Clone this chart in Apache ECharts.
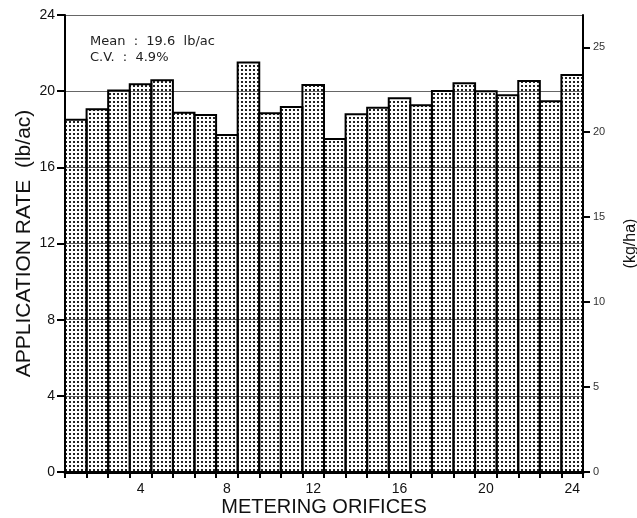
<!DOCTYPE html>
<html>
<head>
<meta charset="utf-8">
<script src="https://cdn.jsdelivr.net/npm/echarts@6/dist/echarts.min.js"></script>
<style>html,body{margin:0;padding:0;background:#fff;}#c{width:637px;height:518px;}</style>
</head>
<body>
<div id="c"></div>
<script>
const orifices = ['1','2','3','4','5','6','7','8','9','10','11','12','13','14','15','16','17','18','19','20','21','22','23','24'];
const rates = [18.5, 19.05, 20.03, 20.36, 20.57, 18.87, 18.75, 17.7, 21.5, 18.84, 19.17, 20.33,
               17.49, 18.79, 19.13, 19.63, 19.26, 20.01, 20.41, 19.99, 19.78, 20.54, 19.47, 20.85];
const leftTicks = [0, 4, 8, 12, 16, 20, 24];
const rightTicks = [0, 5, 10, 15, 20, 25];
const bottomLabels = ['4', '8', '12', '16', '20', '24'];
const statLines = ['Mean  :  19.6  lb/ac', 'C.V.  :  4.9%'];
const LB_TO_KG = 1.12085;

const pat = document.createElement('canvas');
pat.width = 4; pat.height = 4;
const pc = pat.getContext('2d');
pc.fillStyle = '#222';
pc.fillRect(1, 1, 2, 2);

const chart = echarts.init(document.getElementById('c'), null, {renderer: 'canvas'});
const font = 'Liberation Sans';
chart.setOption({
  animation: false,
  backgroundColor: '#fff',
  grid: {left: 65, right: 54, top: 15, bottom: 46, containLabel: false, outerBoundsMode: 'none'},
  xAxis: [{
    type: 'category',
    data: orifices,
    boundaryGap: true,
    name: 'METERING ORIFICES',
    nameLocation: 'middle',
    nameGap: 25,
    nameMoveOverlap: false,
    nameTextStyle: {fontFamily: font, fontSize: 20, color: '#111'},
    axisLine: {show: true, lineStyle: {color: '#000', width: 2}},
    axisTick: {show: true, interval: 0, alignWithLabel: false, length: 6, lineStyle: {color: '#000', width: 2}},
    axisLabel: {
      interval: 0,
      fontFamily: font, fontSize: 14, color: '#111', margin: 10,
      formatter: v => bottomLabels.indexOf(v) >= 0 ? v : ''
    },
    splitLine: {show: false}
  }, {
    type: 'category',
    position: 'top',
    data: orifices,
    axisLine: {show: true, lineStyle: {color: '#000', width: 3}},
    axisTick: {show: false},
    axisLabel: {show: false}
  }],
  yAxis: [{
    type: 'value',
    min: 0, max: 24, interval: 4,
    name: 'APPLICATION RATE  (lb/ac)',
    nameLocation: 'middle',
    nameGap: 30,
    nameMoveOverlap: false,
    nameRotate: 90,
    nameTextStyle: {fontFamily: font, fontSize: 21, color: '#111'},
    axisLine: {show: true, lineStyle: {color: '#000', width: 2}},
    axisTick: {show: true, length: 8, customValues: leftTicks, lineStyle: {color: '#000', width: 2}},
    axisLabel: {fontFamily: font, fontSize: 14, color: '#111', margin: 10, customValues: leftTicks},
    splitLine: {show: true, lineStyle: {color: '#666', width: 1}}
  }, {
    type: 'value',
    position: 'right',
    min: 0, max: 24 * LB_TO_KG,
    name: '(kg/ha)',
    nameLocation: 'middle',
    nameGap: 40,
    nameMoveOverlap: false,
    nameRotate: 90,
    nameTextStyle: {fontFamily: font, fontSize: 16, color: '#111'},
    axisLine: {show: true, lineStyle: {color: '#000', width: 2}},
    axisTick: {show: true, length: 7, customValues: rightTicks, lineStyle: {color: '#000', width: 2}},
    axisLabel: {fontFamily: font, fontSize: 11, color: '#333', margin: 10, customValues: rightTicks},
    splitLine: {show: false}
  }],
  graphic: statLines.map((t, i) => ({
    type: 'text',
    left: 90, top: 35 + i * 16,
    style: {text: t, font: '13px "DejaVu Sans"', fill: '#222'}
  })),
  series: [{
    type: 'custom',
    data: rates.map((v, i) => [i, v]),
    encode: {x: 0, y: 1},
    renderItem: function (params, api) {
      const idx = api.value(0);
      const val = api.value(1);
      const size = api.size([1, 0]);
      const c = api.coord([idx, val]);
      const base = api.coord([idx, 0]);
      const x0 = c[0] - size[0] / 2, x1 = c[0] + size[0] / 2;
      return {
        type: 'group',
        children: [{
          type: 'rect',
          shape: {x: x0, y: c[1], width: x1 - x0, height: base[1] - c[1]},
          style: {fill: {image: pat, repeat: 'repeat'}}
        }, {
          type: 'polyline',
          shape: {points: [[x0, base[1]], [x0, c[1]], [x1, c[1]], [x1, base[1]]]},
          style: {stroke: '#000', lineWidth: 2, fill: null}
        }]
      };
    }
  }]
});
</script>
</body>
</html>
